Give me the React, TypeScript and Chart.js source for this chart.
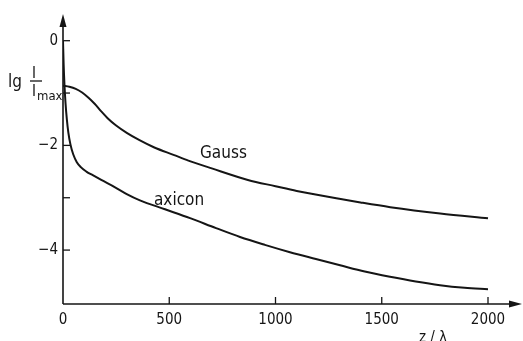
import React, { useEffect, useRef } from "react";
import { Chart, registerables } from "chart.js";

Chart.register(...registerables);

// z / lambda positions and lg(I/Imax) values
const zGauss = [0, 30, 60, 90, 120, 150, 180, 210, 250, 300, 360, 430, 520, 590, 700, 870, 1000, 1100, 1300, 1400, 1540, 1775, 2000];
const lgGauss = [-0.86, -0.88, -0.92, -0.99, -1.09, -1.21, -1.35, -1.48, -1.62, -1.76, -1.9, -2.04, -2.18, -2.29, -2.44, -2.66, -2.78, -2.87, -3.02, -3.09, -3.18, -3.3, -3.39];

const zAxicon = [0, 3, 7, 12, 18, 25, 35, 48, 65, 85, 110, 140, 180, 245, 300, 362, 480, 598, 720, 833, 950, 1068, 1190, 1304, 1420, 1539, 1660, 1774, 1890, 2000];
const lgAxicon = [0, -0.45, -0.85, -1.2, -1.5, -1.75, -1.98, -2.17, -2.32, -2.42, -2.5, -2.57, -2.66, -2.8, -2.93, -3.05, -3.22, -3.39, -3.58, -3.75, -3.9, -4.04, -4.17, -4.29, -4.41, -4.51, -4.6, -4.67, -4.72, -4.75];

const xTicks = [0, 500, 1000, 1500, 2000];
const yTicks = [-4, -3, -2, -1, 0];
const yLabelled = [-4, -2, 0];

const INK = "#151515";
const FONT = "'DejaVu Sans Condensed', 'DejaVu Sans', sans-serif";

const axesPlugin = {
  id: "arrowAxes",
  afterDraw(chart: any) {
    const ctx = chart.ctx as CanvasRenderingContext2D;
    const xs = chart.scales.x;
    const ys = chart.scales.y;
    const x0 = xs.getPixelForValue(0);
    const yb = chart.chartArea.bottom;
    const yt = chart.chartArea.top;
    const xr = chart.chartArea.right;
    ctx.save();
    ctx.strokeStyle = INK;
    ctx.fillStyle = INK;
    ctx.lineWidth = 1.6;
    // y axis
    ctx.beginPath();
    ctx.moveTo(x0, yb);
    ctx.lineTo(x0, yt + 8);
    ctx.stroke();
    ctx.beginPath();
    ctx.moveTo(x0, yt);
    ctx.lineTo(x0 - 3.5, yt + 13);
    ctx.lineTo(x0 + 3.5, yt + 13);
    ctx.closePath();
    ctx.fill();
    // x axis
    ctx.beginPath();
    ctx.moveTo(x0, yb);
    ctx.lineTo(xr - 8, yb);
    ctx.stroke();
    ctx.beginPath();
    ctx.moveTo(xr, yb);
    ctx.lineTo(xr - 13, yb - 3.5);
    ctx.lineTo(xr - 13, yb + 3.5);
    ctx.closePath();
    ctx.fill();
    // tick marks
    ctx.lineWidth = 1.3;
    ys.ticks.forEach((t: any) => {
      const py = ys.getPixelForValue(t.value);
      ctx.beginPath();
      ctx.moveTo(x0, py);
      ctx.lineTo(x0 + 7, py);
      ctx.stroke();
    });
    xs.ticks.forEach((t: any) => {
      if (t.value === 0) return;
      const px = xs.getPixelForValue(t.value);
      ctx.beginPath();
      ctx.moveTo(px, yb);
      ctx.lineTo(px, yb - 7);
      ctx.stroke();
    });
    // y axis title: lg I / I_max
    ctx.textBaseline = "alphabetic";
    ctx.textAlign = "left";
    ctx.font = `17px ${FONT}`;
    ctx.fillText("lg", 8, 87);
    ctx.font = `15px ${FONT}`;
    ctx.fillText("I", 32, 78);
    ctx.fillText("I", 32, 96);
    ctx.font = `13px ${FONT}`;
    ctx.fillText("max", 37, 100);
    ctx.lineWidth = 1.3;
    ctx.beginPath();
    ctx.moveTo(30, 81);
    ctx.lineTo(42, 81);
    ctx.stroke();
    // x axis title
    ctx.textAlign = "center";
    ctx.font = `15px ${FONT}`;
    ctx.fillText("z / λ", 433, 342);
    // curve labels
    ctx.textAlign = "left";
    ctx.font = `17px ${FONT}`;
    ctx.fillText("Gauss", 200, 158);
    ctx.fillText("axicon", 154, 205);
    ctx.restore();
  },
};

export default function App() {
  const ref = useRef<HTMLCanvasElement | null>(null);
  useEffect(() => {
    if (!ref.current) return;
    const chart = new Chart(ref.current, {
      type: "line",
      data: {
        datasets: [
          {
            label: "Gauss",
            data: zGauss.map((z, i) => ({ x: z, y: lgGauss[i] })),
            borderColor: INK,
            borderWidth: 2,
            pointRadius: 0,
            cubicInterpolationMode: "monotone",
            fill: false,
          },
          {
            label: "axicon",
            data: zAxicon.map((z, i) => ({ x: z, y: lgAxicon[i] })),
            borderColor: INK,
            borderWidth: 2,
            pointRadius: 0,
            cubicInterpolationMode: "monotone",
            fill: false,
          },
        ],
      },
      options: {
        responsive: false,
        animation: false,
        layout: { padding: { left: 0, top: 13, right: 1, bottom: 0 } },
        plugins: { legend: { display: false }, tooltip: { enabled: false } },
        scales: {
          x: {
            type: "linear",
            min: 0,
            max: 2160,
            grid: { display: false, drawTicks: false },
            border: { display: false },
            afterBuildTicks: (s: any) => {
              s.ticks = xTicks.map((v) => ({ value: v }));
            },
            afterFit: (s: any) => {
              s.height = 37;
            },
            ticks: {
              color: INK,
              padding: 7,
              maxRotation: 0,
              font: { family: FONT, size: 15 },
              callback: (v: any) => String(v),
            },
          },
          y: {
            type: "linear",
            min: -5.03,
            max: 0.51,
            grid: { display: false, drawTicks: false },
            border: { display: false },
            afterBuildTicks: (s: any) => {
              s.ticks = yTicks.map((v) => ({ value: v }));
            },
            afterFit: (s: any) => {
              s.width = 63;
            },
            ticks: {
              color: INK,
              padding: 5,
              font: { family: FONT, size: 15 },
              callback: (v: any) =>
                yLabelled.includes(v) ? (v === 0 ? "0" : "−" + Math.abs(v)) : "",
            },
          },
        },
      },
      plugins: [axesPlugin],
    });
    return () => chart.destroy();
  }, []);
  return (
    <div style={{ position: "fixed", left: 0, top: 0, width: 523, height: 341, background: "#fff" }}>
      <canvas ref={ref} width={523} height={341} style={{ width: 523, height: 341 }} />
    </div>
  );
}
